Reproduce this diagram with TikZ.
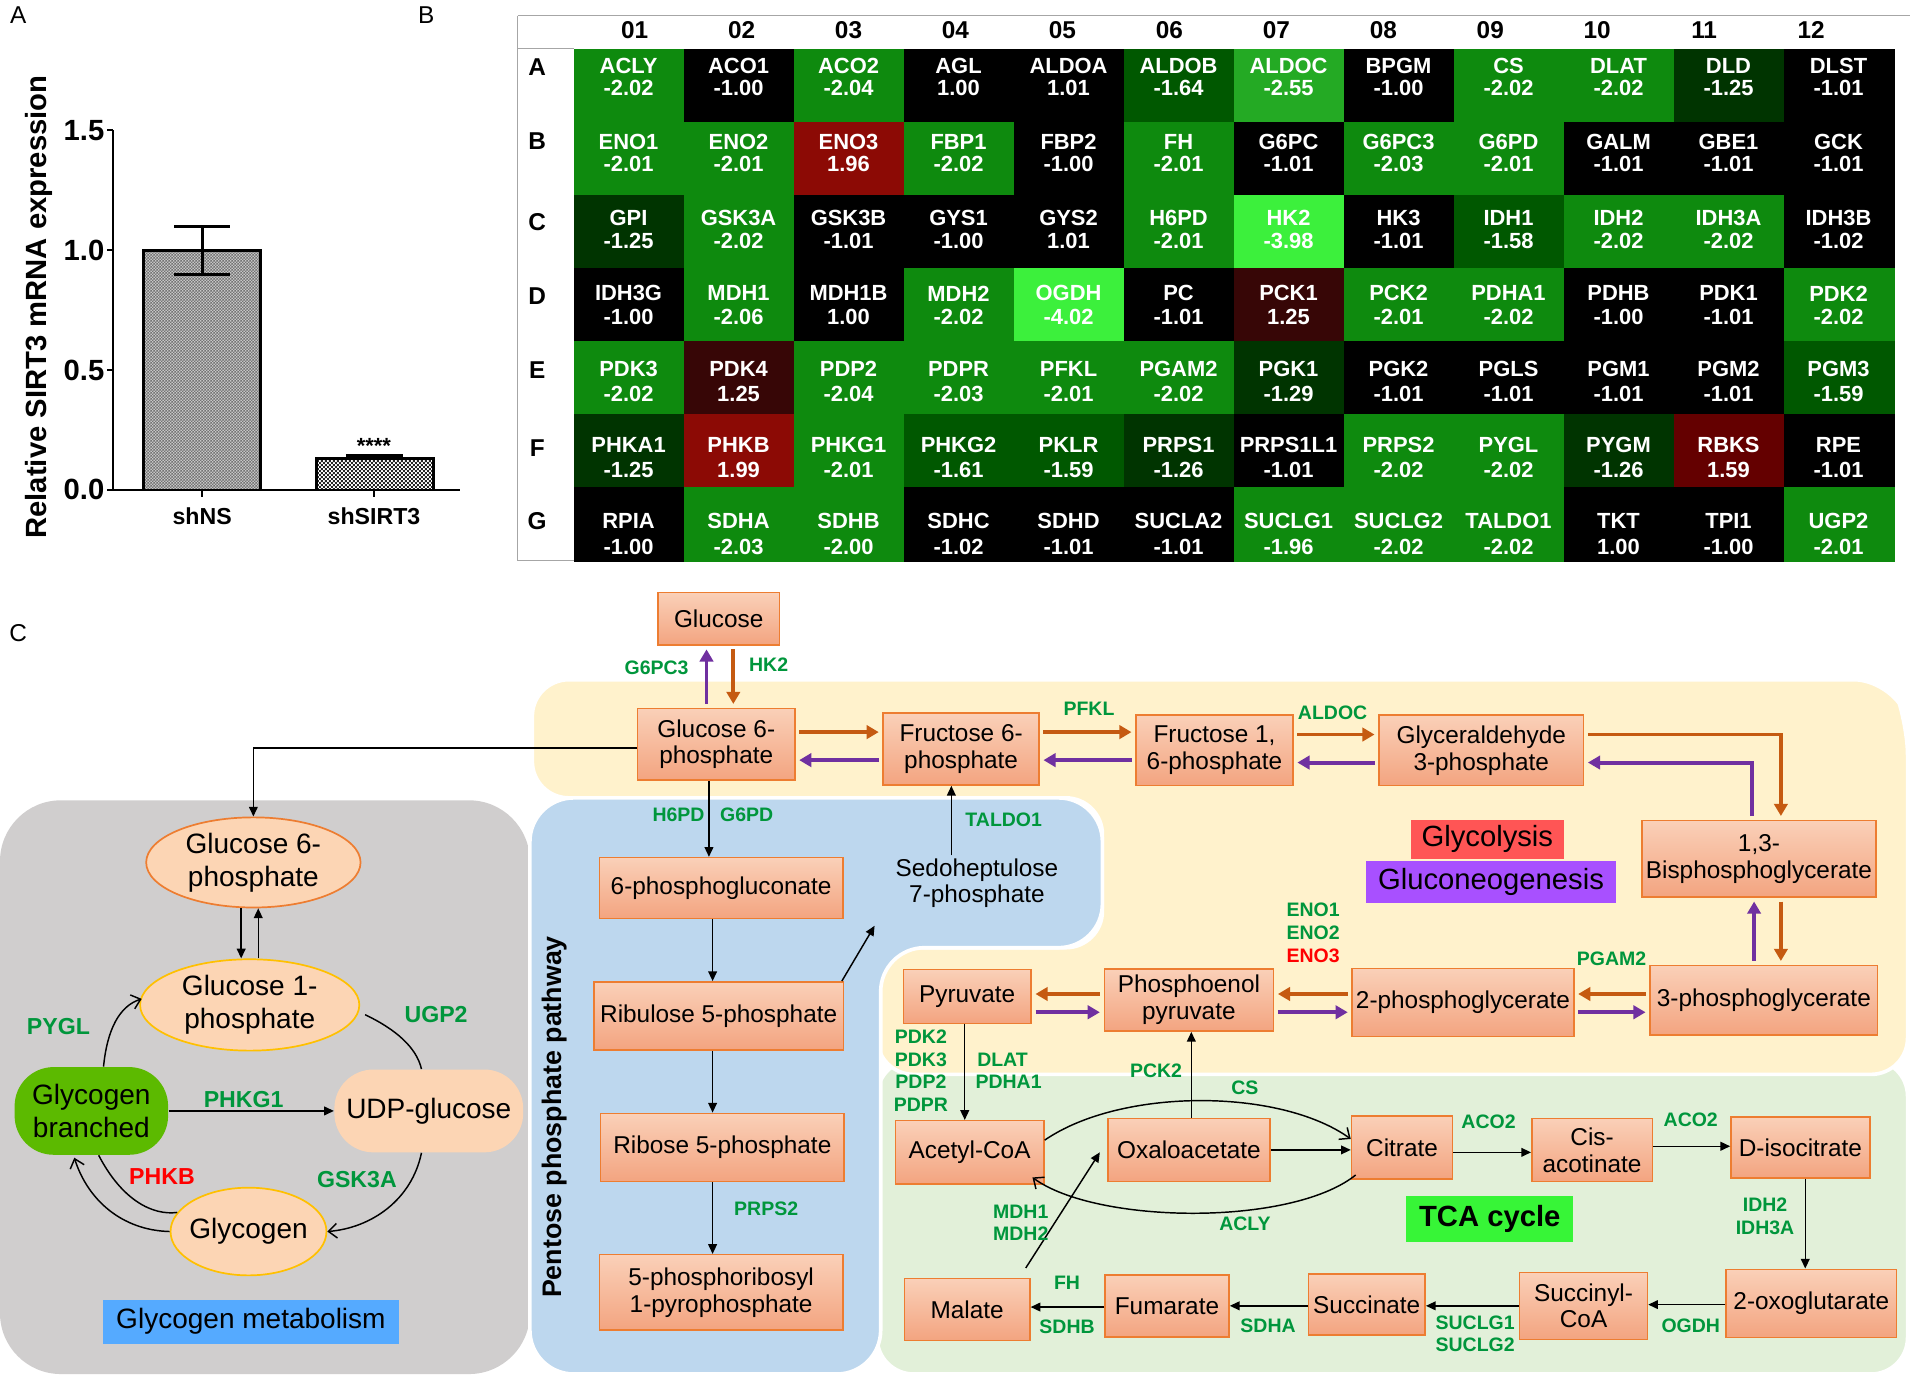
\documentclass[tikz,border=0pt]{standalone}
\usepackage{fontspec}
\setmainfont{Liberation Sans}
\usetikzlibrary{arrows.meta,shapes.geometric,patterns}
\pgfdeclarepatternformonly{finecheck}{\pgfpointorigin}{\pgfqpoint{1.6pt}{1.6pt}}{\pgfqpoint{1.6pt}{1.6pt}}{%
  \pgfpathrectangle{\pgfpointorigin}{\pgfqpoint{0.8pt}{0.8pt}}%
  \pgfpathrectangle{\pgfqpoint{0.8pt}{0.8pt}}{\pgfqpoint{0.8pt}{0.8pt}}%
  \pgfusepath{fill}}
\pgfdeclarepatternformonly{finercheck}{\pgfpointorigin}{\pgfqpoint{1.2pt}{1.2pt}}{\pgfqpoint{1.2pt}{1.2pt}}{%
  \pgfpathrectangle{\pgfpointorigin}{\pgfqpoint{0.6pt}{0.6pt}}%
  \pgfpathrectangle{\pgfqpoint{0.6pt}{0.6pt}}{\pgfqpoint{0.6pt}{0.6pt}}%
  \pgfusepath{fill}}
\definecolor{boxtop}{RGB}{250,208,184}
\definecolor{boxbot}{RGB}{243,164,128}
\definecolor{boxbd}{RGB}{237,125,49}
\definecolor{oarrc}{RGB}{197,90,17}
\definecolor{parrc}{RGB}{112,48,160}
\definecolor{enzg}{RGB}{0,150,60}
\definecolor{glyreg}{RGB}{255,242,204}
\definecolor{pppreg}{RGB}{189,215,238}
\definecolor{tcareg}{RGB}{226,240,217}
\definecolor{grayreg}{RGB}{208,206,206}
\definecolor{ellfill}{RGB}{252,213,180}
\definecolor{ellor}{RGB}{237,125,49}
\definecolor{ellgold}{RGB}{255,192,0}
\definecolor{gbrc}{RGB}{92,186,0}
\definecolor{gmblue}{RGB}{85,170,255}
\definecolor{glyred}{RGB}{255,85,85}
\definecolor{gnpurple}{RGB}{168,80,255}
\definecolor{tcagreen}{RGB}{55,245,55}
\definecolor{hg}{RGB}{14,138,14}
\definecolor{hd1}{RGB}{0,52,0}
\definecolor{hd2}{RGB}{0,88,0}
\definecolor{hd3}{RGB}{36,170,36}
\definecolor{hb}{RGB}{60,240,60}
\definecolor{hk}{RGB}{0,0,0}
\definecolor{hr1}{RGB}{55,6,6}
\definecolor{hr2}{RGB}{100,0,0}
\definecolor{hr3}{RGB}{140,10,5}
\tikzset{
 box/.style={draw=boxbd, line width=0.6pt, top color=boxtop, bottom color=boxbot, align=center, inner sep=0pt, font=\fontsize{10}{11}\selectfont},
 enz/.style={font=\fontsize{8}{9}\selectfont\bfseries, text=enzg, inner sep=0pt},
 enzr/.style={enz, text=red},
 genz/.style={font=\fontsize{9.5}{11}\selectfont\bfseries, text=enzg, inner sep=0pt},
 oarr/.style={draw=oarrc, line width=1.6pt, -{Triangle[length=5pt,width=5.5pt]}, shorten <=1.5pt, shorten >=1.5pt},
 parr/.style={draw=parrc, line width=1.6pt, -{Triangle[length=5pt,width=5.5pt]}, shorten <=1.5pt, shorten >=1.5pt},
 barr/.style={draw=black, line width=0.6pt, -{Triangle[length=4pt,width=3.6pt]}},
 oparr/.style={draw=black, line width=0.6pt, -{Straight Barb[length=3.5pt,width=6pt]}},
 bline/.style={draw=black, line width=0.6pt},
 gell/.style={ellipse, fill=ellfill, line width=0.7pt, inner xsep=-6pt, inner ysep=0pt, align=center, font=\fontsize{11.5}{13.5}\selectfont},
 stad/.style={rectangle, rounded corners=16pt, inner sep=0pt, align=center, font=\fontsize{11.5}{13.5}\selectfont},
 hname/.style={font=\fontsize{9}{10}\selectfont\bfseries, text=white, inner sep=0pt},
 hval/.style={hname},
 hhead/.style={font=\fontsize{10}{11}\selectfont\bfseries, inner sep=0pt},
 ticklab/.style={font=\fontsize{12}{14}\selectfont\bfseries, inner sep=0pt},
 plabel/.style={font=\fontsize{10}{12}\selectfont, inner sep=0pt},
}
\newcommand\hmrow[2]{%
 \foreach \hn/\hv/\hcl [count=\hc from 0] in {#2} {%
  \fill[\hcl] ({471+\hc*90.3},{40+#1*60}) rectangle ++(91,61);
  \node[hname] (hn#1-\hc) at ({516+\hc*90.3},{54+#1*62.3}) {\hn};
  \node[hval] (hv#1-\hc) at ({516+\hc*90.3},{72+#1*62.8}) {\hv};
 }}
\begin{document}
\begin{tikzpicture}[x=0.5pt,y=-0.5pt]
\useasboundingbox (0,0) rectangle (1568,1130);
\fill[white] (0,0) rectangle (1568,1130);

% panel labels
\node[plabel] (labA) at (15,12) {A};
\node[plabel] (labB) at (350,12) {B};
\node[plabel] (labC) at (15,520) {C};

% ---------------- Panel A
\fill[gray!45] (118,205.3) rectangle (214,402);
\fill[pattern=finercheck, pattern color=black!55] (118,205.3) rectangle (214,402);
\draw[line width=1.3pt] (118,402) -- (118,205.3) -- (214,205.3) -- (214,402);
\fill[white] (260,376.4) rectangle (356,402);
\fill[pattern=finecheck, pattern color=black!85] (260,376.4) rectangle (356,402);
\draw[line width=1.3pt] (260,402) -- (260,376.4) -- (356,376.4) -- (356,402);
\draw[line width=1.2pt] (166,185.7) -- (166,225);
\draw[line width=1.2pt] (143,185.7) -- (189,185.7);
\draw[line width=1.2pt] (143,225) -- (189,225);
\draw[line width=2pt] (284,375) -- (331,375);
\draw[line width=0.9pt] (93,107) -- (93,402) -- (378,402);
\foreach \yy/\lab [count=\ti] in {107/1.5, 205.3/1.0, 303.7/0.5, 402/0.0} {
  \draw[line width=0.9pt] (88,\yy) -- (93,\yy);
  \node[ticklab, anchor=east] (ytick\ti) at (86,\yy) {\lab};
}
\draw[line width=0.9pt] (166,402) -- (166,408);
\draw[line width=0.9pt] (307,402) -- (307,408);
\node[font=\fontsize{9.5}{11}\selectfont\bfseries] (xl1) at (166,424) {shNS};
\node[font=\fontsize{9.5}{11}\selectfont\bfseries] (xl2) at (307,424) {shSIRT3};
\node[font=\fontsize{9}{10}\selectfont\bfseries] (stars) at (307,366) {****};
\node[rotate=90, font=\fontsize{12}{14}\selectfont\bfseries] (ylab) at (32,252) {Relative SIRT3 mRNA expression};

% ---------------- Panel B
\draw[gray!70, line width=0.5pt] (425,13) -- (1568,13);
\draw[gray!70, line width=0.5pt] (425,13) -- (425,460) -- (1555,460);
\draw[gray!70, line width=0.5pt] (425,40) -- (471,40);
\foreach \hh [count=\hi from 0] in {01,02,03,04,05,06,07,08,09,10,11,12}
  \node[hhead] (hh\hi) at ({521+\hi*87.8},25) {\hh};
\foreach \rl/\ry in {A/55,B/116,C/182,D/243,E/304,F/368,G/428}
  \node[hhead] (rl\rl) at (441,\ry) {\rl};
\hmrow{0}{ACLY/-2.02/hg, ACO1/-1.00/hk, ACO2/-2.04/hg, AGL/1.00/hk, ALDOA/1.01/hk, ALDOB/-1.64/hd2, ALDOC/-2.55/hd3, BPGM/-1.00/hk, CS/-2.02/hg, DLAT/-2.02/hg, DLD/-1.25/hd1, DLST/-1.01/hk}
\hmrow{1}{ENO1/-2.01/hg, ENO2/-2.01/hg, ENO3/1.96/hr3, FBP1/-2.02/hg, FBP2/-1.00/hk, FH/-2.01/hg, G6PC/-1.01/hk, G6PC3/-2.03/hg, G6PD/-2.01/hg, GALM/-1.01/hk, GBE1/-1.01/hk, GCK/-1.01/hk}
\hmrow{2}{GPI/-1.25/hd1, GSK3A/-2.02/hg, GSK3B/-1.01/hk, GYS1/-1.00/hk, GYS2/1.01/hk, H6PD/-2.01/hg, HK2/-3.98/hb, HK3/-1.01/hk, IDH1/-1.58/hd2, IDH2/-2.02/hg, IDH3A/-2.02/hg, IDH3B/-1.02/hk}
\hmrow{3}{IDH3G/-1.00/hk, MDH1/-2.06/hg, MDH1B/1.00/hk, MDH2/-2.02/hg, OGDH/-4.02/hb, PC/-1.01/hk, PCK1/1.25/hr1, PCK2/-2.01/hg, PDHA1/-2.02/hg, PDHB/-1.00/hk, PDK1/-1.01/hk, PDK2/-2.02/hg}
\hmrow{4}{PDK3/-2.02/hg, PDK4/1.25/hr1, PDP2/-2.04/hg, PDPR/-2.03/hg, PFKL/-2.01/hg, PGAM2/-2.02/hg, PGK1/-1.29/hd1, PGK2/-1.01/hk, PGLS/-1.01/hk, PGM1/-1.01/hk, PGM2/-1.01/hk, PGM3/-1.59/hd2}
\hmrow{5}{PHKA1/-1.25/hd1, PHKB/1.99/hr3, PHKG1/-2.01/hg, PHKG2/-1.61/hd2, PKLR/-1.59/hd2, PRPS1/-1.26/hd1, PRPS1L1/-1.01/hk, PRPS2/-2.02/hg, PYGL/-2.02/hg, PYGM/-1.26/hd1, RBKS/1.59/hr2, RPE/-1.01/hk}
\hmrow{6}{RPIA/-1.00/hk, SDHA/-2.03/hg, SDHB/-2.00/hg, SDHC/-1.02/hk, SDHD/-1.01/hk, SUCLA2/-1.01/hk, SUCLG1/-1.96/hg, SUCLG2/-2.02/hg, TALDO1/-2.02/hg, TKT/1.00/hk, TPI1/-1.00/hk, UGP2/-2.01/hg}

% ---------------- Panel C regions
\fill[grayreg, rounded corners=25pt] (0,657) rectangle (435,1128);
\filldraw[fill=tcareg, draw=white, line width=1.5pt, rounded corners=15pt] (720,870) rectangle (1566,1128);
\filldraw[fill=glyreg, draw=white, line width=1.5pt, rounded corners=15pt] (437,558) -- (1552,558) -- (1566,590) -- (1566,882) -- (720,882) -- (720,778) -- (905,778) -- (905,655) -- (437,655) -- cycle;
\filldraw[fill=pppreg, draw=white, line width=1.5pt, rounded corners=18pt] (435,655) -- (905,655) -- (905,778) -- (723,778) -- (723,1128) -- (435,1128) -- cycle;

\node[rotate=90, font=\fontsize{11}{13}\selectfont\bfseries] (ppp) at (455,917) {Pentose phosphate pathway};

% boxes
\node[box, minimum width=50pt, minimum height=21.5pt] (glc) at (590,508) {Glucose};
\node[box, minimum width=64.5pt, minimum height=29.5pt] (g6p) at (588,611) {Glucose 6-\\phosphate};
\node[box, minimum width=64pt, minimum height=29.5pt] (f6p) at (789,615) {Fructose 6-\\phosphate};
\node[box, minimum width=64.5pt, minimum height=29pt] (f16p) at (997,616) {Fructose 1,\\6-phosphate};
\node[box, minimum width=84pt, minimum height=29pt] (ga3p) at (1216,616) {Glyceraldehyde\\3-phosphate};
\node[box, minimum width=96pt, minimum height=31.5pt] (bpg) at (1444,705) {1,3-\\Bisphosphoglycerate};
\node[box, minimum width=93.5pt, minimum height=28.5pt] (pg3) at (1448,821) {3-phosphoglycerate};
\node[box, minimum width=91pt, minimum height=28pt] (pg2) at (1201,823) {2-phosphoglycerate};
\node[box, minimum width=69.5pt, minimum height=25.5pt] (pep) at (976,821) {Phosphoenol\\pyruvate};
\node[box, minimum width=52.5pt, minimum height=22pt] (pyr) at (794,818) {Pyruvate};
\node[box, minimum width=61pt, minimum height=26pt] (acoa) at (796,946) {Acetyl-CoA};
\node[box, minimum width=66.5pt, minimum height=26pt] (oaa) at (976,944) {Oxaloacetate};
\node[box, minimum width=41.5pt, minimum height=26pt] (cit) at (1151,942) {Citrate};
\node[box, minimum width=49.5pt, minimum height=26pt] (cis) at (1307,944) {Cis-\\acotinate};
\node[box, minimum width=57pt, minimum height=25pt] (iso) at (1478,942) {D-isocitrate};
\node[box, minimum width=70pt, minimum height=28pt] (oxo) at (1487,1070) {2-oxoglutarate};
\node[box, minimum width=52.5pt, minimum height=27.5pt] (scoa) at (1300,1072) {Succinyl-\\CoA};
\node[box, minimum width=48pt, minimum height=25pt] (suc) at (1122,1071) {Succinate};
\node[box, minimum width=51pt, minimum height=25.5pt] (fum) at (958,1072) {Fumarate};
\node[box, minimum width=51.5pt, minimum height=25.5pt] (mal) at (794,1075) {Malate};
\node[box, minimum width=100pt, minimum height=25pt] (pgl) at (592,729) {6-phosphogluconate};
\node[box, minimum width=102.5pt, minimum height=28pt] (ru5p) at (590,834) {Ribulose 5-phosphate};
\node[box, minimum width=100pt, minimum height=28pt] (r5p) at (593,942) {Ribose 5-phosphate};
\node[box, minimum width=100pt, minimum height=31pt] (prpp) at (592,1061) {5-phosphoribosyl\\1-pyrophosphate};
\node[align=center, inner sep=0pt, font=\fontsize{10}{11}\selectfont] (s7p) at (802,725) {Sedoheptulose\\7-phosphate};
\coordinate (s7pin) at (718,760);

% region labels
\node[fill=glyred, minimum width=63pt, minimum height=16pt, inner sep=0pt, font=\fontsize{12}{14}\selectfont] (lglyc) at (1221,689) {Glycolysis};
\node[fill=gnpurple, minimum width=103pt, minimum height=17pt, inner sep=0pt, font=\fontsize{12}{14}\selectfont] (lgng) at (1224,724) {Gluconeogenesis};
\node[fill=tcagreen, minimum width=68.5pt, minimum height=19pt, inner sep=0pt, font=\fontsize{12}{14}\selectfont\bfseries] (ltca) at (1223,1001) {TCA cycle};
\node[fill=gmblue, minimum width=121.5pt, minimum height=18pt, inner sep=0pt, font=\fontsize{11.5}{14}\selectfont] (lgm) at (206,1085) {Glycogen metabolism};

% glycolysis arrows
\draw[parr] ([xshift=-4pt]g6p.north) -- ([xshift=-4pt]g6p.north |- glc.south);
\draw[oarr] ([xshift=7pt]g6p.north |- glc.south) -- ([xshift=7pt]g6p.north);
\draw[oarr] (g6p.east |- 0,601) -- (f6p.west |- 0,601);
\draw[parr] (f6p.west |- 0,624) -- (g6p.east |- 0,624);
\draw[oarr] (f6p.east |- 0,601) -- (f16p.west |- 0,601);
\draw[parr] (f16p.west |- 0,624) -- (f6p.east |- 0,624);
\draw[oarr] (f16p.east |- 0,603) -- (ga3p.west |- 0,603);
\draw[parr] (ga3p.west |- 0,626) -- (f16p.east |- 0,626);
\draw[oarr] (ga3p.east |- 0,603) -| ([xshift=9pt]bpg.north);
\draw[parr] ([xshift=-3pt]bpg.north) |- (ga3p.east |- 0,626);
\draw[oarr] ([xshift=9pt]bpg.south) -- ([xshift=9pt]bpg.south |- pg3.north);
\draw[parr] ([xshift=-2pt]bpg.south |- pg3.north) -- ([xshift=-2pt]bpg.south);
\draw[oarr] (pg3.west |- 0,816) -- (pg2.east |- 0,816);
\draw[parr] (pg2.east |- 0,831) -- (pg3.west |- 0,831);
\draw[oarr] (pg2.west |- 0,816) -- (pep.east |- 0,816);
\draw[parr] (pep.east |- 0,831) -- (pg2.west |- 0,831);
\draw[oarr] (pep.west |- 0,816) -- (pyr.east |- 0,816);
\draw[parr] (pyr.east |- 0,831) -- (pep.west |- 0,831);

% TCA arrows
\draw[barr] ([xshift=-1pt]pyr.south) -- ([xshift=-1pt]pyr.south |- acoa.north);
\draw[barr] ([xshift=1pt]oaa.north) -- ([xshift=1pt]oaa.north |- pep.south);
\draw[barr] (oaa.east) -- (cit.west |- oaa.east);
\draw[barr] (cit.east |- 0,946) -- (cis.west |- 0,946);
\draw[barr] (cis.east |- 0,941) -- (iso.west |- 0,941);
\draw[barr] ([xshift=2pt]iso.south) -- ([xshift=2pt]iso.south |- oxo.north);
\draw[barr] (oxo.west |- 0,1071) -- (scoa.east |- 0,1071);
\draw[barr] (scoa.west |- 0,1072) -- (suc.east |- 0,1072);
\draw[barr] (suc.west |- 0,1072) -- (fum.east |- 0,1072);
\draw[barr] (fum.west |- 0,1073) -- (mal.east |- 0,1073);
\draw[barr] ([xshift=-2pt,yshift=4pt]mal.north east) -- ([xshift=-3pt,yshift=-1pt]oaa.west);
\draw[oparr] (acoa.east |- 0,936) .. controls (920,893) and (1050,893) .. (cit.west |- 0,935);
\draw[oparr] ([xshift=2pt,yshift=2pt]cit.south west) .. controls (1060,1007) and (900,1005) .. ([xshift=-5pt,yshift=3pt]acoa.south east);

% PPP arrows
\draw[barr] ([xshift=-3pt]g6p.south) -- ([xshift=-3pt]g6p.south |- pgl.north);
\draw[barr] ([xshift=-3.5pt]pgl.south) -- ([xshift=-3.5pt]pgl.south |- ru5p.north);
\draw[barr] ([xshift=-2.5pt]ru5p.south) -- ([xshift=-2.5pt]ru5p.south |- r5p.north);
\draw[barr] ([xshift=-4pt]r5p.south) -- ([xshift=-4pt]r5p.south |- prpp.north);
\draw[barr] ([xshift=-1pt]ru5p.north east) -- (s7pin);
\draw[barr] ([xshift=-10.5pt,yshift=1pt]s7p.north) -- ([xshift=-10.5pt]s7p.north |- f6p.south);

% enzyme labels
\node[enz] (e1) at (539,548) {G6PC3};
\node[enz] (e2) at (631,546) {HK2};
\node[enz] (e3) at (894,582) {PFKL};
\node[enz] (e4) at (1094,585) {ALDOC};
\node[enz] (e5) at (557,669) {H6PD};
\node[enz] (e6) at (613,669) {G6PD};
\node[enz] (e7) at (824,673) {TALDO1};
\node[enz] (e8) at (1323,787) {PGAM2};
\node[enz] (e9) at (1078,747) {ENO1};
\node[enz] (e10) at (1078,766) {ENO2};
\node[enzr] (e11) at (1078,785) {ENO3};
\node[enz] (e12) at (756,851) {PDK2};
\node[enz] (e13) at (756,870) {PDK3};
\node[enz] (e14) at (756,888) {PDP2};
\node[enz] (e15) at (756,907) {PDPR};
\node[enz] (e16) at (823,870) {DLAT};
\node[enz] (e17) at (828,888) {PDHA1};
\node[enz] (e18) at (949,879) {PCK2};
\node[enz] (e19) at (1022,893) {CS};
\node[enz] (e20) at (1222,921) {ACO2};
\node[enz] (e21) at (1388,919) {ACO2};
\node[enz] (e22) at (1449,989) {IDH2};
\node[enz] (e23) at (1449,1008) {IDH3A};
\node[enz] (e24) at (1022,1005) {ACLY};
\node[enz] (e25) at (838,995) {MDH1};
\node[enz] (e26) at (838,1013) {MDH2};
\node[enz] (e27) at (876,1053) {FH};
\node[enz] (e28) at (876,1089) {SDHB};
\node[enz] (e29) at (1041,1088) {SDHA};
\node[enz] (e30) at (1211,1086) {SUCLG1};
\node[enz] (e31) at (1211,1104) {SUCLG2};
\node[enz] (e32) at (1388,1088) {OGDH};
\node[enz] (e33) at (629,992) {PRPS2};

% ---------------- Glycogen metabolism
\node[gell, draw=ellor, minimum width=88pt, minimum height=37pt] (g6pe) at (208,708) {Glucose 6-\\phosphate};
\node[gell, draw=ellgold, minimum width=90pt, minimum height=37.5pt] (g1pe) at (205,825) {Glucose 1-\\phosphate};
\node[gell, draw=ellgold, minimum width=64pt, minimum height=36pt] (gly) at (204,1011) {Glycogen};
\node[stad, fill=gbrc, minimum width=63pt, minimum height=36pt] (gbr) at (75,912) {Glycogen\\branched};
\node[stad, fill=ellfill, minimum width=77.5pt, minimum height=34pt] (udp) at (352,912) {UDP-glucose};

\draw[barr] (g6p.west |- 0,614) -| (g6pe.north);
\draw[barr] ([xshift=-5pt]g6pe.south) -- ([xshift=-5pt]g6pe.south |- g1pe.north);
\draw[barr] ([xshift=2pt]g6pe.south |- g1pe.north) -- ([xshift=2pt]g6pe.south);
\draw[oparr] ([xshift=5pt]gbr.north) .. controls (88,845) and (98,826) .. ([xshift=1pt,yshift=2.5pt]g1pe.west);
\draw[bline] ([xshift=2pt,yshift=-4pt]g1pe.east) .. controls (325,845) and (342,860) .. ([xshift=-3pt]udp.north);
\draw[barr] (gbr.east) -- (udp.west);
\draw[oparr] ([xshift=-3pt]udp.south) .. controls (338,985) and (305,1008) .. (gly.east);
\draw[bline] ([xshift=3pt]gbr.south) .. controls (100,985) and (125,998) .. (gly.165);
\draw[oparr] (gly.west) .. controls (100,1010) and (72,985) .. ([xshift=-7pt,yshift=-1pt]gbr.south);

\node[genz] (g1) at (48,843) {PYGL};
\node[genz] (g2) at (358,833) {UGP2};
\node[genz] (g3) at (200,903) {PHKG1};
\node[genz, text=red] (g4) at (133,966) {PHKB};
\node[genz] (g5) at (293,968) {GSK3A};
\end{tikzpicture}
\end{document}
